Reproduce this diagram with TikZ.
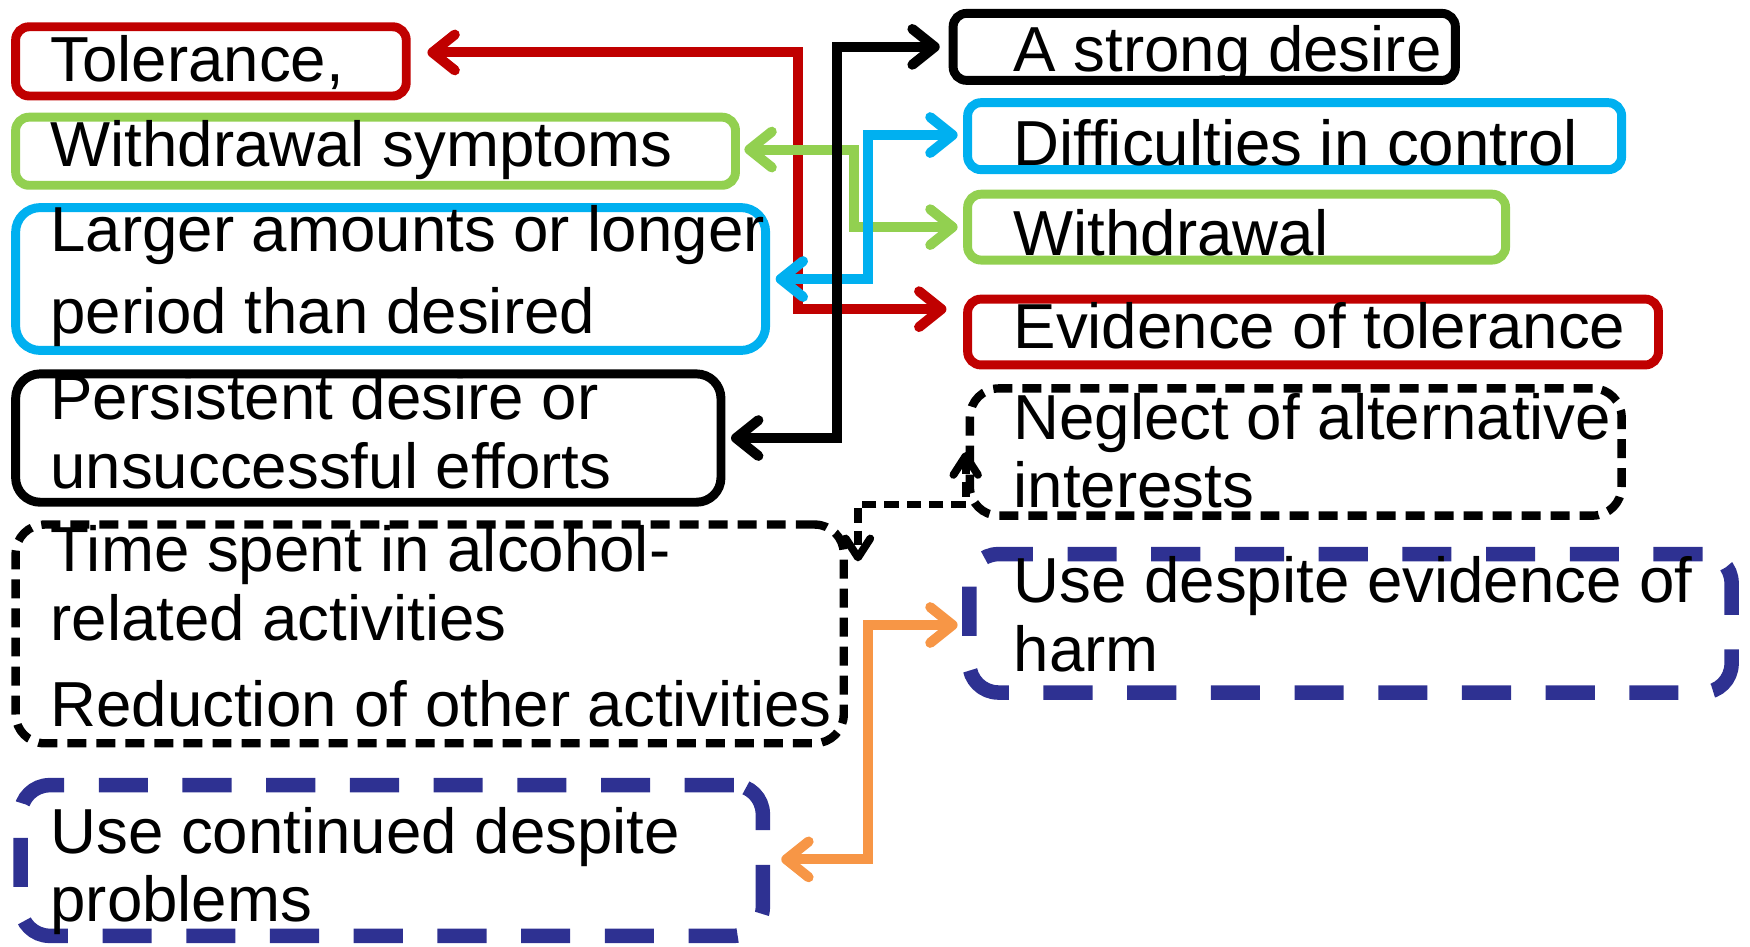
\documentclass[tikz,border=0pt]{standalone}
\usepackage{fontspec}
\setmainfont{Liberation Sans}
\usetikzlibrary{arrows.meta,calc}
\definecolor{cred}{HTML}{C00000}
\definecolor{cgreen}{HTML}{92D050}
\definecolor{cblue}{HTML}{00B0F0}
\definecolor{corange}{HTML}{F79646}
\definecolor{cnavy}{HTML}{2E3192}
\tikzset{
  barbs/.tip={Straight Barb[length=20pt,width=32pt,round]},
  sbarbs/.tip={Straight Barb[length=17pt,width=22pt,round]}
}
\begin{document}
\begin{tikzpicture}[x=1pt,y=-1pt,
  box/.style={draw, line width=8pt, rounded corners=12pt, inner sep=0pt},
  bigbox/.style={box, rounded corners=22pt},
  dbox/.style={draw, line width=7.5pt, rounded corners=26pt, inner sep=0pt, dash pattern=on 17pt off 9pt},
  nbox/.style={draw=cnavy, line width=13pt, rounded corners=26pt, inner sep=0pt, dash pattern=on 44pt off 31pt},
  txt/.style={anchor=base west, inner sep=0pt, font=\fontsize{57}{60}\selectfont},
  conn/.style={barbs-barbs, line width=9pt},
  dconn/.style={sbarbs-sbarbs, line width=7pt, dash pattern=on 13pt off 7pt}
]
\useasboundingbox (0,0) rectangle (1568,848);

% left column boxes
\node[box, draw=cred, minimum width=350pt, minimum height=62pt] (tol) at (189,55) {};
\node[box, draw=cgreen, minimum width=645pt, minimum height=61pt] (wsym) at (336.5,135.5) {};
\node[bigbox, draw=cblue, minimum width=672pt, minimum height=128pt] (larger) at (350,250) {};
\node[bigbox, draw=black, minimum width=632pt, minimum height=115pt] (persist) at (330,392.5) {};
\node[dbox, minimum width=742pt, minimum height=196pt] (time) at (385,568) {};
\node[nbox, minimum width=665pt, minimum height=135pt] (usecont) at (351,771) {};

% right column boxes
\node[box, draw=black, minimum width=450pt, minimum height=60pt] (strong) at (1079,42) {};
\node[box, draw=cblue, minimum width=586pt, minimum height=60pt] (diff) at (1160,122) {};
\node[box, draw=cgreen, minimum width=482pt, minimum height=59pt] (withdr) at (1108,203.5) {};
\node[box, draw=cred, minimum width=619pt, minimum height=59pt] (evid) at (1176.5,297.5) {};
\node[dbox, minimum width=584pt, minimum height=114pt] (neglect) at (1161,405) {};
\node[nbox, minimum width=683pt, minimum height=124pt] (usedesp) at (1210,558.5) {};

% texts
\node[txt] (t1) at (45,73) {Tolerance,};
\node[txt] (t2) at (45,149) {Withdrawal symptoms};
\node[txt] (t3a) at (45,225) {Larger amounts or longer};
\node[txt] (t3b) at (45,299) {period than desired};
\node[txt] (t4a) at (45,376) {Persistent desire or};
\node[txt] (t4b) at (45,438) {unsuccessful efforts};
\node[txt] (t5a) at (45,512) {Time spent in alcohol-};
\node[txt] (t5b) at (45,574) {related activities};
\node[txt] (t5c) at (45,651) {Reduction of other activities};
\node[txt] (t6a) at (45,765) {Use continued despite};
\node[txt] (t6b) at (45,826) {problems};
\node[txt] (r1) at (908,64) {A strong desire};
\node[txt] (r2) at (908,148) {Difficulties in control};
\node[txt] (r3) at (908,229) {Withdrawal};
\node[txt] (r4) at (908,312) {Evidence of tolerance};
\node[txt] (r5a) at (908,394) {Neglect of alternative};
\node[txt] (r5b) at (908,455) {interests};
\node[txt] (r6a) at (908,540) {Use despite evidence of};
\node[txt] (r6b) at (908,602) {harm};

% connectors
\draw[conn, cred] ($(tol.east)+(15,-8)$) -- ++(332,0) |- ($(evid.west)+(-15,-20.5)$);
\draw[conn, cgreen] ($(wsym.east)+(4,-1.5)$) -- ++(98,0) |- ($(withdr.west)+(-5,0)$);
\draw[conn, cblue] ($(diff.west)+(-5,-1)$) -- ++(-80,0) |- ($(larger.east)+(5,0)$);
\draw[conn, black] ($(strong.west)+(-8,0)$) -- ++(-92,0) |- ($(persist.east)+(5,0)$);
\draw[dconn, black] (neglect.west) -- ++(0,47) -| ($(time.east)+(9,-65)$);
\draw[conn, corange] ($(usedesp.west)+(-4,1.5)$) -- ++(-80,0) |- ($(usecont.east)+(10,-1)$);
\end{tikzpicture}
\end{document}
